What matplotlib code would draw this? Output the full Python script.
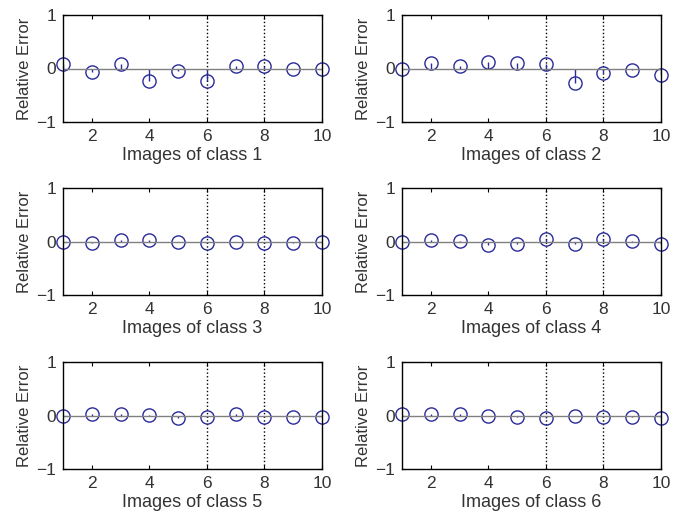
import numpy as np
import matplotlib
matplotlib.use('Agg')
import matplotlib.pyplot as plt

plt.rcParams['font.family'] = ['Liberation Sans', 'DejaVu Sans']

images = [1, 2, 3, 4, 5, 6, 7, 8, 9, 10]

class1 = [0.08, -0.06, 0.09, -0.23, -0.04, -0.24, 0.04, 0.04, 0.0, 0.0]
class2 = [-0.01, 0.11, 0.05, 0.12, 0.11, 0.08, -0.28, -0.08, -0.03, -0.12]
class3 = [0.0, -0.02, 0.02, 0.03, -0.01, -0.03, 0.0, -0.02, -0.03, 0.0]
class4 = [0.0, 0.03, 0.01, -0.06, -0.04, 0.04, -0.04, 0.04, 0.01, -0.04]
class5 = [0.0, 0.02, 0.02, 0.01, -0.04, -0.02, 0.02, -0.02, -0.03, -0.02]
class6 = [0.02, 0.02, 0.02, -0.01, -0.02, -0.04, 0.0, -0.03, -0.03, -0.04]

all_classes = [class1, class2, class3, class4, class5, class6]
x_ticks = [2, 4, 6, 8, 10]
y_ticks = [-1, 0, 1]
grid_x = [6, 8]

fig = plt.figure(figsize=(6.85, 5.15), dpi=100)

lefts = [63 / 685, 402 / 685]
width = 259 / 685
tops = [15, 188, 362]
height = 107 / 515
txt = '#333333'
blue = '#2a2a9a'

for i, vals in enumerate(all_classes):
    row = i // 2
    col = i % 2
    bottom = 1 - (tops[row] + 107) / 515
    ax = fig.add_axes([lefts[col], bottom, width, height])

    for gx in grid_x:
        ax.axvline(gx, color='black', linestyle=':', linewidth=1.0, zorder=0)

    ml, sl, bl = ax.stem(images, vals, linefmt='-', markerfmt='o', basefmt='-')
    plt.setp(sl, color=blue, linewidth=1.0)
    plt.setp(ml, markerfacecolor='none', markeredgecolor=blue, markersize=9.5, markeredgewidth=1.0)
    plt.setp(bl, color='#808080', linewidth=1.0)
    ml.set_clip_on(False)

    ax.set_xlim(1, 10)
    ax.set_ylim(-1, 1)
    ax.set_xticks(x_ticks)
    ax.set_yticks(y_ticks)
    ax.set_yticklabels(['\u22121', '0', '1'])
    ax.tick_params(direction='in', length=3, labelsize=12.5, top=True, right=True,
                   pad=5, labelcolor=txt)
    ax.set_xlabel('Images of class %d' % (i + 1), fontsize=13, labelpad=2, color=txt)
    ax.set_ylabel('Relative Error', fontsize=12, labelpad=3, color=txt)
    for s in ax.spines.values():
        s.set_linewidth(1.0)

fig.savefig('out.png', dpi=100)
